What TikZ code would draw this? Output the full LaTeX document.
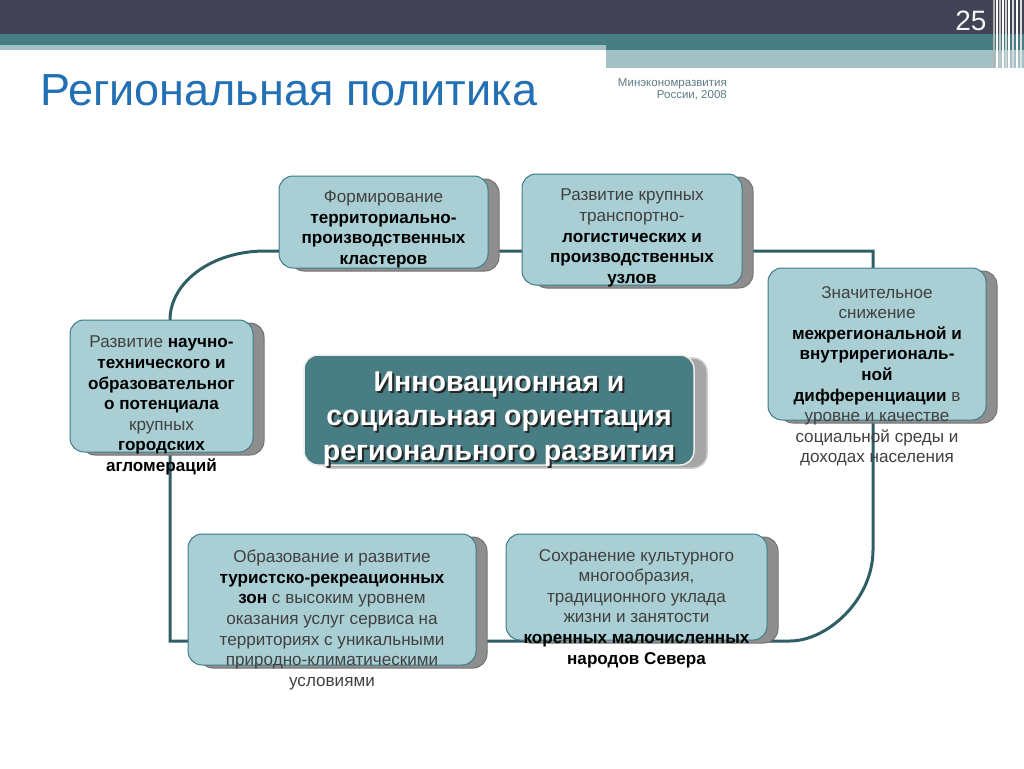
\documentclass[tikz,border=0pt]{standalone}
\usepackage{fontspec}
\setmainfont{Liberation Sans}
\usepackage{xcolor}
\usepackage{tikz}
\usetikzlibrary{shadows}

\definecolor{topbar}{HTML}{414254}
\definecolor{bandteal}{HTML}{467E83}
\definecolor{bandlight}{HTML}{A3C2C6}
\definecolor{panelfill}{HTML}{A9CFD4}
\definecolor{panelline}{HTML}{3E7C8A}
\definecolor{shadegray}{HTML}{8E8E8E}
\definecolor{ringline}{HTML}{2F5E65}
\definecolor{coreteal}{HTML}{477D83}
\definecolor{titleblue}{HTML}{2370B4}
\definecolor{notegray}{HTML}{5C7C84}
\definecolor{plaintext}{HTML}{404040}

\newcommand{\bt}[1]{\textbf{\textcolor{black}{#1}}}

\begin{document}
\begin{tikzpicture}[
  x=1pt, y=-1pt,
  panel/.style={rounded corners=14pt, fill=panelfill, draw=panelline, line width=1pt,
    general shadow={fill=shadegray, draw=black!55, shadow xshift=11pt, shadow yshift=-3pt}},
  corebox/.style={rounded corners=14pt, fill=coreteal, draw=white!85!gray, line width=1.5pt,
    general shadow={fill=gray!70, draw=gray!40, shadow xshift=13pt, shadow yshift=-3pt}},
  paneltext/.style={align=center, anchor=north, inner sep=0pt, text=plaintext,
    font=\fontsize{17.1}{20.6}\selectfont},
  coretext/.style={align=center, anchor=north, inner sep=0pt,
    font=\fontsize{28.6}{34.5}\selectfont\bfseries},
  ring/.style={draw=ringline, line width=3pt}
]
\useasboundingbox (0,0) rectangle (1024,768);

% header bands
\fill[topbar] (0,0) rectangle (1024,34);
\fill[bandteal] (0,34) rectangle (606,45);
\fill[bandlight] (0,45) rectangle (606,50);
\fill[bandteal] (606,34) rectangle (1024,50);
\fill[bandlight] (606,50) rectangle (1024,68);
\foreach \sx/\sc in {993/gray!60, 996/white, 999/gray!45, 1002/white, 1005/gray!35, 1008/white, 1012/gray!30, 1016/white, 1020/gray!25}
  \fill[\sc] (\sx,0) rectangle ++(2,68);
\node[anchor=base east, text=white!92!gray, font=\fontsize{28}{28}\selectfont] (pageno) at (990,31) {25};

\node[anchor=base west, inner sep=0pt, text=titleblue, font=\fontsize{45}{45}\selectfont] (title) at (40,105) {Региональная политика};
\node[anchor=north east, align=right, inner sep=0pt, text=notegray, font=\fontsize{11.5}{12.5}\selectfont] (source) at (727,78) {Минэкономразвития\\России, 2008};

% loop behind the boxes
\coordinate (lsw) at (170,641);
\coordinate (lw) at (170,320);
\coordinate (lnw) at (265,251);
\coordinate (lne) at (873,251);
\coordinate (le) at (873,550);
\coordinate (lse) at (790,641);
\draw[ring] (lsw) -- (lw) .. controls (170,282) and (212,251) .. (lnw) -- (lne) -- (le)
  .. controls (873,600) and (827,641) .. (lse) -- cycle;

% boxes
\node[panel, minimum width=209, minimum height=92] (clust) at (383.5,222) {};
\node[panel, minimum width=220, minimum height=111] (hubs) at (632,229.5) {};
\node[panel, minimum width=218, minimum height=152] (diff) at (877,344) {};
\node[panel, minimum width=183, minimum height=132] (sci) at (161.5,386) {};
\node[panel, minimum width=288, minimum height=131] (tour) at (332,599.5) {};
\node[panel, minimum width=261, minimum height=106] (north) at (636.5,587) {};
\node[corebox, minimum width=390, minimum height=110] (core) at (499,410) {};

% texts
\node[paneltext] (clusttxt) at (383.5,190.5) {Формирование\\\bt{территориально-}\\\bt{производственных}\\\bt{кластеров}};
\node[paneltext] (hubstxt) at (632,189) {Развитие крупных\\транспортно-\\\bt{логистических и}\\\bt{производственных}\\\bt{узлов}};
\node[paneltext] (difftxt) at (877,286) {Значительное\\снижение\\\bt{межрегиональной и}\\\bt{внутрирегиональ-}\\\bt{ной}\\\bt{дифференциации} в\\уровне и качестве\\социальной среды и\\доходах населения};
\node[paneltext] (scitxt) at (161.5,336) {Развитие \bt{научно-}\\\bt{технического и}\\\bt{образовательног}\\\bt{о потенциала}\\крупных\\\bt{городских}\\\bt{агломераций}};
\node[paneltext] (tourtxt) at (332,550) {Образование и развитие\\\bt{туристско-рекреационных}\\\bt{зон} с высоким уровнем\\оказания услуг сервиса на\\территориях с уникальными\\природно-климатическими\\условиями};
\node[paneltext] (northtxt) at (636.5,549) {Сохранение культурного\\многообразия,\\традиционного уклада\\жизни и занятости\\\bt{коренных малочисленных}\\\bt{народов Севера}};

\node[coretext, text=black!85] (coreshade) at (501,373.5) {Инновационная и\\социальная ориентация\\регионального развития};
\node[coretext, text=white] (coretxt) at (499,371.5) {Инновационная и\\социальная ориентация\\регионального развития};
\end{tikzpicture}
\end{document}
